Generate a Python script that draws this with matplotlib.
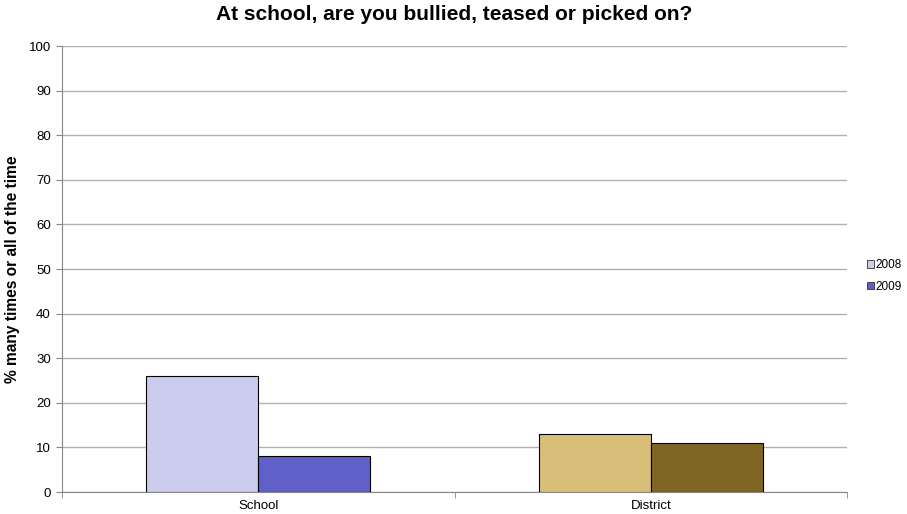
import matplotlib
matplotlib.use('Agg')
import matplotlib.pyplot as plt
from matplotlib.patches import Patch
import numpy as np

plt.rcParams['font.family'] = ['Liberation Sans', 'DejaVu Sans']

# chart data
categories = ['School', 'District']
series = ['2008', '2009']
values_2008 = [26, 13]
values_2009 = [8, 11]
colors_2008 = ['#CCCCEE', '#D8BE78']
colors_2009 = ['#6060C8', '#806624']
yticks = list(range(0, 101, 10))

fig = plt.figure(figsize=(9.07, 5.14), dpi=100)
ax = fig.add_axes([0.0684, 0.0428, 0.8655, 0.8677])

x = np.arange(len(categories))
w = 0.285
ax.bar(x - w / 2, values_2008, w, color=colors_2008, edgecolor='black', linewidth=0.8, zorder=3)
ax.bar(x + w / 2, values_2009, w, color=colors_2009, edgecolor='black', linewidth=0.8, zorder=3)

ax.set_xlim(-0.5, len(categories) - 0.5)
ax.set_ylim(0, 100)
ax.set_yticks(yticks)
ax.set_yticklabels([str(v) for v in yticks], fontsize=9.5)
ax.set_xticks(x)
ax.set_xticklabels(categories, fontsize=9.5)
ax.set_xticks(np.arange(-0.5, len(categories)), minor=True)
ax.tick_params(axis='x', which='major', length=0, pad=6)
ax.tick_params(axis='x', which='minor', length=4, color='#888888')
ax.tick_params(axis='y', length=4, color='#888888', pad=4)

ax.grid(axis='y', color='#B0B0B0', linewidth=1, zorder=0)
for s in ['top', 'right']:
    ax.spines[s].set_visible(False)
for s in ['left', 'bottom']:
    ax.spines[s].set_color('#888888')

ax.set_ylabel('% many times or all of the time', fontsize=11.2, fontweight='bold', labelpad=6)
ax.set_title('At school, are you bullied, teased or picked on?', fontsize=15,
             fontweight='bold', pad=19)

handles = [Patch(facecolor=colors_2008[0], edgecolor='#333333', linewidth=0.6, label=series[0]),
           Patch(facecolor=colors_2009[0], edgecolor='#333333', linewidth=0.6, label=series[1])]
fig.legend(handles=handles, loc='center left', bbox_to_anchor=(0.9555, 0.463), frameon=False,
           fontsize=8.5, handlelength=0.6, handleheight=0.6, handletextpad=0.15, labelspacing=0.8,
           borderpad=0, borderaxespad=0)

fig.savefig('out.png', dpi=100)
